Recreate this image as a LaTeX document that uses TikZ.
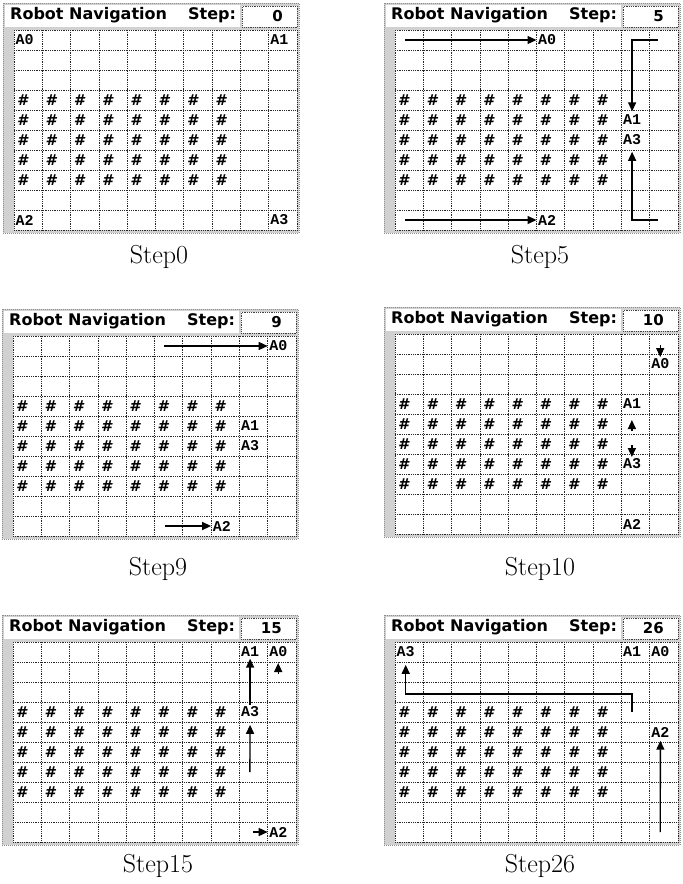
\documentclass[tikz,border=0pt]{standalone}
\usepackage{fontspec}
\usetikzlibrary{arrows.meta,calc}
\newfontfamily\hdrfont{DejaVu Sans}
\newfontfamily\agfont{Liberation Mono}
\newfontfamily\hashfont{DejaVu Sans}
\tikzset{
  x=1pt, y=-1pt,
  gridline/.style={black!85, line width=0.8pt, dash pattern=on 1pt off 0.8pt},
  paneledge/.style={draw=black!45, line width=0.8pt, dash pattern=on 1pt off 1pt},
  valbox/.style={draw=black!75, fill=white, line width=0.8pt, dash pattern=on 1pt off 0.8pt, inner sep=0pt},
  title/.style={font=\hdrfont\bfseries\fontsize{16}{18}\selectfont, anchor=west, inner sep=0pt},
  stepnum/.style={font=\hdrfont\bfseries\fontsize{15}{18}\selectfont, anchor=east, inner sep=0pt},
  agent/.style={font=\agfont\bfseries\fontsize{15}{17}\selectfont, anchor=west, inner sep=1.5pt},
  hash/.style={font=\hashfont\bfseries\itshape\fontsize{15}{16}\selectfont, anchor=west, inner sep=0pt},
  caption/.style={font=\fontsize{26}{30}\selectfont, inner sep=0pt},
  arr/.style={-{Triangle[length=9pt,width=8pt]}, line width=1.4pt, black},
}
\newcommand\robotpanel[6]{%
  \begin{scope}[shift={(#2,#3)}]
    \fill[black!18] (-11,-27) rectangle (285,203);
    \draw[paneledge] (-11,-27) rectangle (285,203);
    \fill[white] (-9,-25) rectangle (226,-3);
    \node[valbox, minimum width=55pt, minimum height=21pt, anchor=north west] (#1-val) at (228,-24) {};
    \node[title] (#1-title) at (-4,-15) {Robot Navigation};
    \node[title] (#1-steplbl) at (174,-15) {Step:};
    \node[stepnum] (#1-num) at (269,-14) {#4};
    \fill[white] (0,0) rectangle (283,200);
    \foreach \k in {0,...,10} {
      \draw[gridline] (0,{20*\k}) -- (283,{20*\k});
      \draw[gridline] ({28.3*\k},0) -- ({28.3*\k},200);
    }
    \foreach \r in {0,...,9} {
      \foreach \c in {0,...,9} {
        \coordinate (#1-\r-\c) at ({28.3*\c},{20*\r+10});
      }
    }
    \foreach \r in {3,...,7} {
      \foreach \c in {0,...,7} {
        \node[hash] (#1-h-\r-\c) at ($(#1-\r-\c)+(3,0)$) {\#};
      }
    }
    \node[caption] (#1-cap) at (145,#6) {#5};
  \end{scope}}
\begin{document}
\begin{tikzpicture}
\useasboundingbox (0,0) rectangle (683,884);
\robotpanel{pa}{14}{30}{0}{Step0}{227}
\robotpanel{pb}{395}{30}{5}{Step5}{227}
\robotpanel{pc}{13}{336}{9}{Step9}{233}
\robotpanel{pd}{395}{334}{10}{Step10}{235}
\robotpanel{pe}{13}{642}{15}{Step15}{224}
\robotpanel{pf}{395}{642}{26}{Step26}{224}

% Step 0
\node[agent] (pa-A0) at (pa-0-0) {A0};
\node[agent] (pa-A1) at (pa-0-9) {A1};
\node[agent] (pa-A2) at (pa-9-0) {A2};
\node[agent] (pa-A3) at (pa-9-9) {A3};

% Step 5
\node[agent] (pb-A0) at (pb-0-5) {A0};
\node[agent] (pb-A1) at (pb-4-8) {A1};
\node[agent] (pb-A3) at (pb-5-8) {A3};
\node[agent] (pb-A2) at (pb-9-5) {A2};
\coordinate (pb-s0) at ($(pb-0-0)+(10,0)$);
\coordinate (pb-s2) at ($(pb-9-0)+(10,0)$);
\coordinate (pb-s1) at ($(pb-0-9)+(8,0)$);
\coordinate (pb-s3) at ($(pb-9-9)+(8,0)$);
\draw[arr] (pb-s0) -- (pb-A0.west);
\draw[arr] (pb-s2) -- (pb-A2.west);
\draw[arr, shorten >=2pt] (pb-s1) -| (pb-A1.north);
\draw[arr, shorten >=5pt] (pb-s3) -| (pb-A3.south);

% Step 9
\node[agent] (pc-A0) at (pc-0-9) {A0};
\node[agent] (pc-A1) at (pc-4-8) {A1};
\node[agent] (pc-A3) at (pc-5-8) {A3};
\node[agent] (pc-A2) at (pc-9-7) {A2};
\coordinate (pc-s0) at ($(pc-0-5)+(9,0)$);
\coordinate (pc-s2) at ($(pc-9-5)+(10,0)$);
\draw[arr] (pc-s0) -- (pc-A0.west);
\draw[arr] (pc-s2) -- (pc-A2.west);

% Step 10
\node[agent] (pd-A0) at (pd-1-9) {A0};
\node[agent] (pd-A1) at (pd-3-8) {A1};
\node[agent] (pd-A3) at (pd-6-8) {A3};
\node[agent] (pd-A2) at (pd-9-8) {A2};
\coordinate (pd-t0) at ($(pd-1-9)+(10.5,-19)$);
\coordinate (pd-e0) at ($(pd-1-9)+(10.5,-7)$);
\coordinate (pd-t1) at ($(pd-4-8)+(10.5,7)$);
\coordinate (pd-e1) at ($(pd-4-8)+(10.5,-4)$);
\coordinate (pd-t3) at ($(pd-6-8)+(10.5,-19)$);
\coordinate (pd-e3) at ($(pd-6-8)+(10.5,-7)$);
\draw[arr] (pd-t0) -- (pd-e0);
\draw[arr] (pd-t1) -- (pd-e1);
\draw[arr] (pd-t3) -- (pd-e3);

% Step 15
\node[agent] (pe-A1) at (pe-0-8) {A1};
\node[agent] (pe-A0) at (pe-0-9) {A0};
\node[agent] (pe-A3) at (pe-3-8) {A3};
\node[agent] (pe-A2) at (pe-9-9) {A2};
\coordinate (pe-s3) at ($(pe-6-8)+(10.5,0)$);
\coordinate (pe-t0) at ($(pe-1-9)+(10.5,2)$);
\coordinate (pe-e0) at ($(pe-1-9)+(10.5,-9)$);
\coordinate (pe-s2) at ($(pe-9-8)+(14,0)$);
\draw[arr] (pe-A3.north) -- (pe-A1.south);
\draw[arr, shorten >=6pt] (pe-s3) -- (pe-A3.south);
\draw[arr] (pe-t0) -- (pe-e0);
\draw[arr] (pe-s2) -- (pe-A2.west);

% Step 26
\node[agent] (pf-A3) at (pf-0-0) {A3};
\node[agent] (pf-A1) at (pf-0-8) {A1};
\node[agent] (pf-A0) at (pf-0-9) {A0};
\node[agent] (pf-A2) at (pf-4-9) {A2};
\coordinate (pf-s2) at ($(pf-9-9)+(10.5,0)$);
\coordinate (pf-s3) at ($(pf-3-8)+(10.5,0)$);
\coordinate (pf-t3) at ($(pf-2-8)+(10.5,2)$);
\draw[arr, shorten >=2pt] (pf-s2) -- (pf-A2.south);
\draw[arr, shorten >=6pt] (pf-s3) -- (pf-t3) -| (pf-A3.south);
\end{tikzpicture}
\end{document}
